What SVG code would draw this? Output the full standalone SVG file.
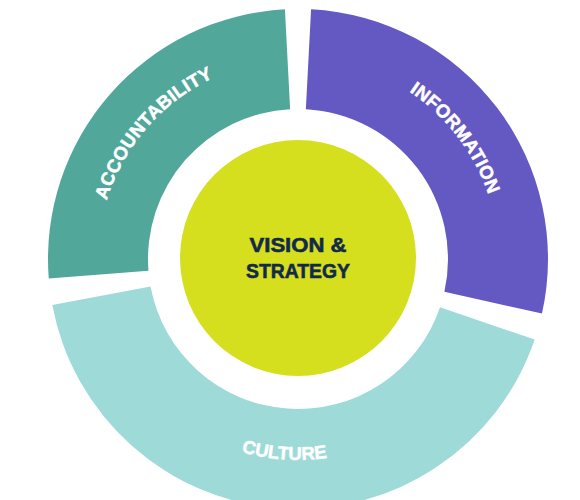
<svg xmlns="http://www.w3.org/2000/svg" width="580" height="500" viewBox="0 0 580 500">
  <style>
    .seg-label { font-family: "Liberation Sans", Arial, sans-serif; font-weight: bold; font-size: 18.5px; fill: #FFFFFF; stroke: #FFFFFF; stroke-width: 0.5px; }
    .center-label { font-family: "Liberation Sans", Arial, sans-serif; font-weight: bold; font-size: 21px; fill: #13294B; stroke: #13294B; stroke-width: 0.6px; text-anchor: middle; }
  </style>
  <defs>
    <path id="arc-accountability" d="M 108.90 324.11 A 200 200 0 0 1 336.16 62.67" fill="none"/>
    <path id="arc-information" d="M 271.76 59.72 A 201 201 0 0 1 483.70 335.92" fill="none"/>
    <path id="arc-culture" d="M 117.34 347.11 A 201 201 0 0 0 464.64 371.40" fill="none"/>
  </defs>
  <rect width="580" height="500" fill="#FFFFFF"/>
  <g id="accountability">
    <path d="M 48.77 278.61 A 250 250 0 0 1 284.92 9.34 L 290.15 109.21 A 150 150 0 0 0 148.46 270.77 Z" fill="#52A79B"/>
    <text class="seg-label" letter-spacing="0.3"><textPath href="#arc-accountability" startOffset="50%" text-anchor="middle">ACCOUNTABILITY</textPath></text>
  </g>
  <g id="information">
    <path d="M 311.08 9.34 A 250 250 0 0 1 541.98 313.54 L 444.39 291.72 A 150 150 0 0 0 305.85 109.21 Z" fill="#6459C2"/>
    <text class="seg-label" letter-spacing="0.3"><textPath href="#arc-information" startOffset="50%" text-anchor="middle">INFORMATION</textPath></text>
  </g>
  <g id="culture">
    <path d="M 534.67 339.57 A 250 250 0 0 1 52.27 304.99 L 150.56 286.59 A 150 150 0 0 0 440.00 307.34 Z" fill="#9DDAD8"/>
    <text class="seg-label"><textPath href="#arc-culture" startOffset="50%" text-anchor="middle">CULTURE</textPath></text>
  </g>
  <g id="vision-strategy">
    <circle cx="298" cy="258" r="118" fill="#D5DF1E"/>
    <text class="center-label" x="298" y="251.7" textLength="97" lengthAdjust="spacingAndGlyphs">VISION &amp;</text>
    <text class="center-label" x="298" y="277.7" textLength="104" lengthAdjust="spacingAndGlyphs">STRATEGY</text>
  </g>
  <g id="connectors"/>
</svg>
